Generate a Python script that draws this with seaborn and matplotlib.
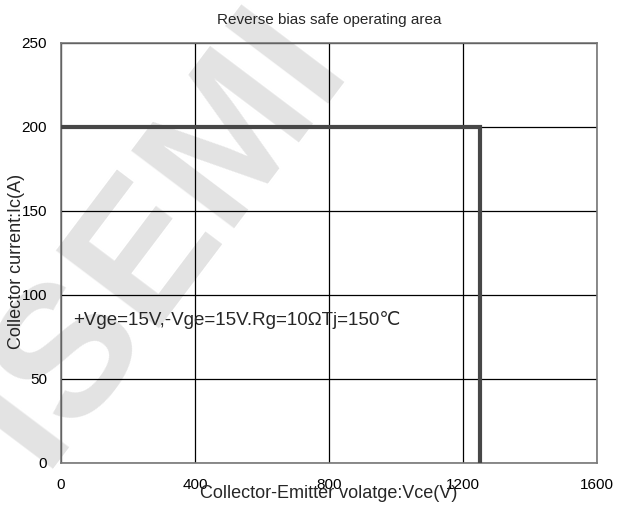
import matplotlib
matplotlib.use("Agg")
import matplotlib.pyplot as plt
import seaborn as sns
import pandas as pd

# RBSOA boundary
vce = [0, 1250, 1250]
ic = [200, 200, 0]

x_ticks = [0, 400, 800, 1200, 1600]
y_ticks = [0, 50, 100, 150, 200, 250]

title = "Reverse bias safe operating area"
x_label = "Collector-Emitter volatge:Vce(V)"
y_label = "Collector current:Ic(A)"
note = "+Vge=15V,-Vge=15V.Rg=10\u03a9Tj=150\u2103"

sns.set_style("white")
plt.rcParams['font.family'] = ['Liberation Sans', 'DejaVu Sans']

fig = plt.figure(figsize=(6.24, 5.13), dpi=100)
ax = fig.add_axes([61 / 624, 1 - 463 / 513, 536 / 624, 420 / 513])
ax.set_facecolor('none')

# watermark
fig.text(0.25, 0.54, "ISEMI", rotation=53, fontsize=135, fontweight='bold',
         color='#e3e3e3', ha='center', va='center', zorder=-10)

df = pd.DataFrame({"vce": vce, "ic": ic})
sns.lineplot(data=df, x="vce", y="ic", sort=False, estimator=None, color='#474747',
             lw=3, ax=ax, solid_joinstyle='miter', zorder=3)

ax.set_xlim(0, 1600)
ax.set_ylim(0, 250)
ax.set_xticks(x_ticks)
ax.set_yticks(y_ticks)
ax.grid(True, color='black', lw=0.9)
for s in ax.spines.values():
    s.set_color('#777777')
    s.set_linewidth(1.2)
ax.tick_params(length=0, labelsize=11, colors='black')
ax.tick_params(axis='x', pad=11)
ax.tick_params(axis='y', pad=10)

ax.set_title(title, fontsize=11, pad=14)
ax.set_xlabel(x_label, fontsize=13)
ax.set_ylabel(y_label, fontsize=13)
ax.xaxis.set_label_coords(0.5, -0.053)
ax.yaxis.set_label_coords(-0.067, 0.48)

ax.text(35, 85, note, fontsize=13.5, ha='left', va='center', zorder=4)

fig.savefig("out.png", dpi=100)
